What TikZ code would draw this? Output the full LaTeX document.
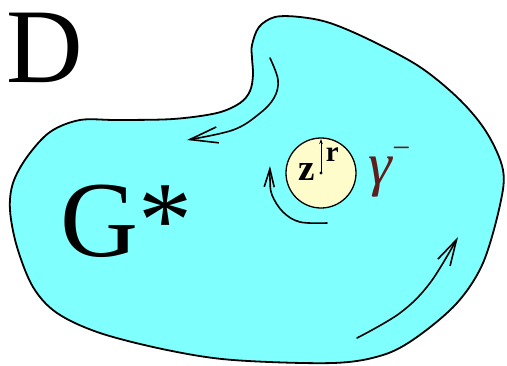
\documentclass[tikz,border=0pt]{standalone}
\usepackage{fontspec}
\setmainfont{Liberation Serif}
\usetikzlibrary{arrows.meta}
\definecolor{domaincyan}{RGB}{128,255,255}
\definecolor{diskyellow}{RGB}{255,252,204}
\definecolor{gammared}{RGB}{95,30,30}

\begin{document}
\begin{tikzpicture}[line width=1.6pt, line cap=round, line join=round, x=1pt, y=-1pt,
  >={Straight Barb[length=28pt,width=16pt]}]
  \useasboundingbox (0,0) rectangle (507,365);
  % --- domain G* (outer boundary) ---
  \filldraw[fill=domaincyan, draw=black, line width=1.8pt]
    plot[smooth cycle, tension=0.55] coordinates {
      (252,45) (259,27) (275,17) (300,17) (330,23) (370,40) (420,67)
      (460,100) (487,133) (503,170) (500,205) (483,263) (457,303)
      (417,337) (383,355) (333,363) (233,360) (167,350) (100,333)
      (57,313) (33,287) (17,247) (10,210) (13,183) (27,157) (50,132)
      (80,120) (117,120) (173,119) (217,113) (240,103) (250,91)
      (253,75) (252,58)};
  % --- small disc around z ---
  \coordinate (z) at (321,173);
  \coordinate (rtip) at (321,139);
  \filldraw[fill=diskyellow, draw=black, line width=1.3pt] (z) circle (35);
  \fill (z) circle (1.6);
  \draw[line width=0.9pt, -{Stealth[length=5pt,width=3.5pt]}] (z) -- (rtip);
  % --- orientation arrows ---
  \draw[->] plot[smooth, tension=0.6] coordinates {
    (270,58) (278,80) (274,98) (259,114) (233,130) (187,140)};
  \draw[->, >={Straight Barb[length=26pt,width=14pt]}] plot[smooth, tension=0.6] coordinates {
    (357,338) (400,313) (430,283) (458,237)};
  \draw[->, >={Straight Barb[length=18pt,width=10pt]}] plot[smooth, tension=0.6] coordinates {
    (327,223) (300,222) (283,212) (272,195) (270,180) (270,166)};
  % --- labels ---
  \node[anchor=base west, inner sep=0pt, font=\fontsize{106}{110}\selectfont] (Dlabel) at (6,82) {D};
  \node[anchor=base west, inner sep=0pt, font=\fontsize{108}{112}\selectfont] (Gstar) at (60,256) {G*};
  \node[anchor=base west, inner sep=0pt, font=\fontsize{37}{40}\selectfont\bfseries] (zlabel) at (298,180) {z};
  \node[anchor=base west, inner sep=0pt, font=\fontsize{29}{32}\selectfont\bfseries] (rlabel) at (325,161) {r};
  \node[anchor=base west, inner sep=0pt, text=gammared, font=\fontsize{60}{64}\selectfont\itshape] (gammalabel) at (368,184)
    {γ\raisebox{26pt}{\fontsize{32}{32}\selectfont\upshape −}};
\end{tikzpicture}
\end{document}
